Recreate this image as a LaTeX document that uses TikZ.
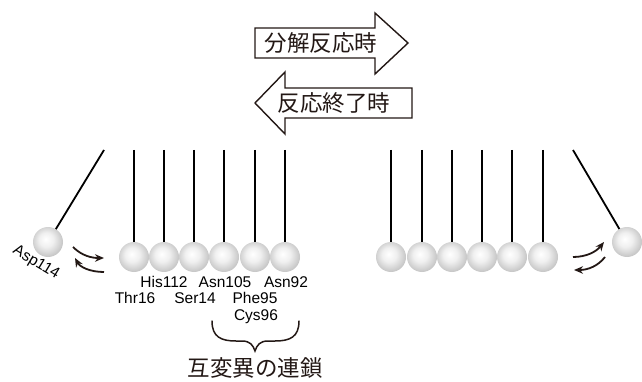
\documentclass[tikz,border=0pt]{standalone}
\usepackage{fontspec}
\setmainfont{Liberation Sans}
\newfontfamily\jpfont{Noto Sans CJK JP}
\usetikzlibrary{arrows.meta}

% soft grey sphere
\pgfdeclareradialshading{sphere}{\pgfpoint{-4bp}{5bp}}{%
  color(0bp)=(white);
  color(12bp)=(white!94!black);
  color(30bp)=(white!74!black);
  color(45bp)=(white!58!black);
  color(50bp)=(white!52!black)}

\definecolor{ink}{HTML}{231815}

\begin{document}
\begin{tikzpicture}[x=1pt,y=-1pt,
  ball/.style={circle,minimum size=30pt,inner sep=0pt,shading=sphere},
  thread/.style={line width=1.8pt,black},
  reslabel/.style={font=\fontsize{15.5}{15.5}\selectfont,anchor=base,inner sep=0pt},
  flip/.style={line width=1.8pt,ink,-{Stealth[length=9pt,width=7.5pt]}},
  bigarrow/.style={draw=ink,line width=1.4pt,fill=white,line join=miter},
  jplabel/.style={font=\jpfont\fontsize{22.5}{22.5}\selectfont,inner sep=0pt,text=ink}]

\useasboundingbox (0,0) rectangle (642,382);

% direction arrows
\draw[bigarrow] (255,28) -- (375,28) -- (375,13) -- (408,43) -- (375,74)
  -- (375,58) -- (255,58) -- cycle;
\node[jplabel] (fwd) at (321,43) {分解反応時};
\draw[bigarrow] (412,88) -- (285,88) -- (285,72) -- (255,103) -- (285,134)
  -- (285,118) -- (412,118) -- cycle;
\node[jplabel] (bwd) at (334,103) {反応終了時};

% left cradle: six resting balls
\foreach \i/\x in {1/134,2/164,3/194,4/224,5/255,6/285}{
  \coordinate (lt\i) at (\x,150);
  \node[ball] (lb\i) at (\x,257) {};
  \draw[thread] (lt\i) -- (lb\i.north);
}
% left swinging ball
\coordinate (lpt) at (104,150);
\draw[thread] (lpt) -- (48,242);
\node[ball] (lsw) at (48,242) {};

% right cradle: six resting balls
\foreach \i/\x in {1/391,2/422,3/452,4/482,5/512,6/543}{
  \coordinate (rt\i) at (\x,150);
  \node[ball] (rb\i) at (\x,257) {};
  \draw[thread] (rt\i) -- (rb\i.north);
}
% right swinging ball
\coordinate (rpt) at (573,150);
\draw[thread] (rpt) -- (627,242);
\node[ball] (rsw) at (627,242) {};

% exchange arrows
\coordinate (la1) at (73,247);  \coordinate (la2) at (104,258);
\coordinate (la3) at (104,272); \coordinate (la4) at (75,258);
\draw[flip] (la1) .. controls (82,256) and (92,258) .. (la2);
\draw[flip] (la3) .. controls (90,272) and (80,267) .. (la4);
\coordinate (ra1) at (573,257); \coordinate (ra2) at (604,242);
\coordinate (ra3) at (605,257); \coordinate (ra4) at (574,270);
\draw[flip] (ra1) .. controls (586,257) and (596,252) .. (ra2);
\draw[flip] (ra3) .. controls (598,266) and (588,270) .. (ra4);

% residue labels
\node[reslabel,rotate=-31,anchor=center] (asp) at (36,263) {Asp114};
\node[reslabel] (his) at (164,287) {His112};
\node[reslabel] (asn105) at (225,287) {Asn105};
\node[reslabel] (asn92) at (286,287) {Asn92};
\node[reslabel] (thr) at (135,303) {Thr16};
\node[reslabel] (ser) at (195,303) {Ser14};
\node[reslabel] (phe) at (255,303) {Phe95};
\node[reslabel] (cys) at (256,320) {Cys96};

% brace over the tautomer chain
\draw[line width=1.5pt,ink,line cap=round]
  (212,321) .. controls (212,337) and (221,341) .. (236,341) -- (242,341)
  .. controls (250,341) and (253,345) .. (255,351)
  .. controls (257,345) and (260,341) .. (268,341) -- (275,341)
  .. controls (290,341) and (299,337) .. (299,321);
\node[jplabel] (chain) at (255,368) {互変異の連鎖};

\end{tikzpicture}
\end{document}
